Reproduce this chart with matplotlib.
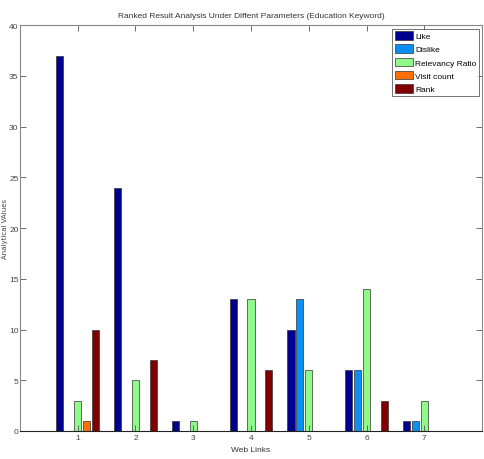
import numpy as np
import matplotlib.pyplot as plt
from matplotlib.patches import Patch

plt.rcParams['font.family'] = ['Liberation Sans Narrow', 'Liberation Sans', 'DejaVu Sans']

links = [1, 2, 3, 4, 5, 6, 7]
series = ['Like', 'Dislike', 'Relevancy Ratio', 'Visit count', 'Rank']
like = [37, 24, 1, 13, 10, 6, 1]
dislike = [0, 0, 0, 0, 13, 6, 1]
relevancy = [3, 5, 1, 13, 6, 14, 3]
visit = [1, 0, 0, 0, 0, 0, 0]
rank = [10, 7, 0, 6, 0, 3, 0]
colors = ['#00008f', '#0a8ff5', '#8ffa8a', '#ff7000', '#800000']

fig = plt.figure(figsize=(4.85, 4.6), dpi=100)
ax = fig.add_axes([0.041, 0.061, 0.953, 0.882])

x = np.array(links)
step = 0.154
width = 0.123
for i, (vals, c) in enumerate(zip([like, dislike, relevancy, visit, rank], colors)):
    ax.bar(x + (i - 2) * step, vals, width, color=c, edgecolor='#333333', linewidth=0.5)

ax.set_xlim(0, 8)
ax.set_ylim(0, 40)
ax.set_xticks(links)
ax.set_yticks(range(0, 41, 5))
ax.tick_params(axis='both', direction='in', labelsize=6, length=4, width=0.6,
               top=True, right=True, colors='#555555', labelcolor='#444444', pad=2)
ax.tick_params(axis='y', pad=1)
for s in ax.spines.values():
    s.set_color('#888888')
    s.set_linewidth(0.8)
ax.spines['bottom'].set_color('#222222')

ax.set_title('Ranked Result Analysis Under Diffent Parameters (Education Keyword)',
             fontsize=6, color='#333333', pad=6)
ax.set_xlabel('Web Links', fontsize=6, color='#333333', labelpad=4)
ax.set_ylabel('Analytical VAlues', fontsize=5, color='#444444', family='DejaVu Sans')
ax.yaxis.set_label_coords(-0.025, 0.5)

handles = [Patch(facecolor=c, edgecolor='#333333', linewidth=0.5) for c in colors]
leg = ax.legend(handles, series, loc='upper right', fontsize=6, fancybox=False,
                edgecolor='#333333', handlelength=2.2, handleheight=1.2,
                labelspacing=0.5, handletextpad=0.2, borderpad=0.3,
                borderaxespad=0.4)
leg.get_frame().set_linewidth(0.6)

fig.savefig('out.png', dpi=100)
